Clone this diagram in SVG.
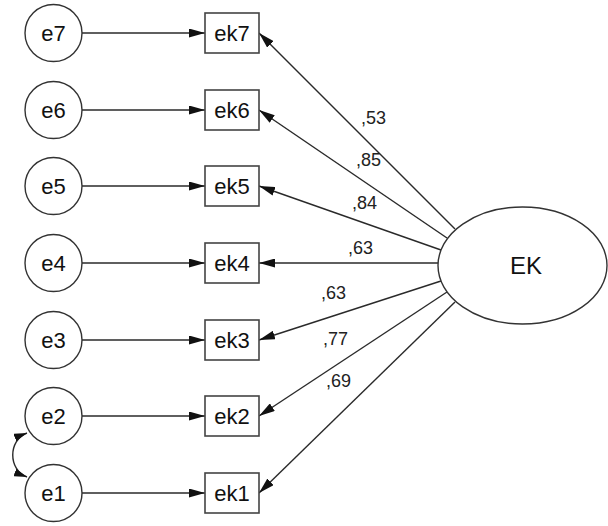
<svg xmlns="http://www.w3.org/2000/svg" width="608" height="526" viewBox="0 0 608 526">
  <style>
    .err { fill: #fff; stroke: #333; stroke-width: 1.4; }
    .obs { fill: #fff; stroke: #444; stroke-width: 1.6; }
    .lat { fill: #fff; stroke: #333; stroke-width: 1.4; }
    .lbl { font-family: "Liberation Sans", Arial, sans-serif; font-size: 22px; fill: #111; text-anchor: middle; }
    .big { font-family: "Liberation Sans", Arial, sans-serif; font-size: 24px; fill: #111; text-anchor: middle; }
    .coef { font-family: "Liberation Sans", Arial, sans-serif; font-size: 18px; fill: #222; }
    .path { fill: none; stroke: #2a2a2a; stroke-width: 1.4; marker-end: url(#head); }
    .cov { fill: none; stroke: #2a2a2a; stroke-width: 1.4; marker-start: url(#small); marker-end: url(#small); }
  </style>
  <defs>
    <marker id="head" markerUnits="userSpaceOnUse" markerWidth="16" markerHeight="9" refX="16" refY="4.5" orient="auto">
      <path d="M0,0 L16,4.5 L0,9 z" fill="#111"/>
    </marker>
    <marker id="small" markerUnits="userSpaceOnUse" markerWidth="13" markerHeight="8" refX="13" refY="4" orient="auto-start-reverse">
      <path d="M0,0 L13,4 L0,8 z" fill="#111"/>
    </marker>
  </defs>

  <!-- connectors -->
  <g id="connectors">
    <!-- error terms to indicators -->
    <line class="path" x1="82" y1="33" x2="205" y2="33"/>
    <line class="path" x1="82" y1="110" x2="205" y2="110"/>
    <line class="path" x1="82" y1="186" x2="205" y2="186"/>
    <line class="path" x1="82" y1="263" x2="205" y2="263"/>
    <line class="path" x1="82" y1="340" x2="205" y2="340"/>
    <line class="path" x1="82" y1="416" x2="205" y2="416"/>
    <line class="path" x1="82" y1="493" x2="205" y2="493"/>
    <!-- factor loadings -->
    <line class="path" x1="455" y1="229" x2="259" y2="33"/>
    <line class="path" x1="447" y1="238" x2="259" y2="110"/>
    <line class="path" x1="441" y1="250" x2="259" y2="186"/>
    <line class="path" x1="438" y1="263" x2="259" y2="263"/>
    <line class="path" x1="441" y1="281" x2="259" y2="340"/>
    <line class="path" x1="447" y1="292" x2="259" y2="416"/>
    <line class="path" x1="455" y1="302" x2="259" y2="493"/>
    <!-- e1 / e2 covariance -->
    <path class="cov" d="M 27 433 C 8 440 8 470 27 477"/>
    <!-- loading values -->
    <text class="coef" x="361" y="124">,53</text>
    <text class="coef" x="356" y="166">,85</text>
    <text class="coef" x="352" y="209">,84</text>
    <text class="coef" x="348" y="254">,63</text>
    <text class="coef" x="321" y="299">,63</text>
    <text class="coef" x="323" y="345">,77</text>
    <text class="coef" x="326" y="387">,69</text>
  </g>

  <!-- error terms -->
  <g id="e7"><circle class="err" cx="53.5" cy="33" r="28.5"/><text class="lbl" x="53.5" y="41">e7</text></g>
  <g id="e6"><circle class="err" cx="53.5" cy="110" r="28.5"/><text class="lbl" x="53.5" y="118">e6</text></g>
  <g id="e5"><circle class="err" cx="53.5" cy="186" r="28.5"/><text class="lbl" x="53.5" y="194">e5</text></g>
  <g id="e4"><circle class="err" cx="53.5" cy="263" r="28.5"/><text class="lbl" x="53.5" y="271">e4</text></g>
  <g id="e3"><circle class="err" cx="53.5" cy="340" r="28.5"/><text class="lbl" x="53.5" y="348">e3</text></g>
  <g id="e2"><circle class="err" cx="53.5" cy="416" r="28.5"/><text class="lbl" x="53.5" y="424">e2</text></g>
  <g id="e1"><circle class="err" cx="53.5" cy="493" r="28.5"/><text class="lbl" x="53.5" y="501">e1</text></g>

  <!-- observed indicators -->
  <g id="ek7"><rect class="obs" x="205" y="13" width="54" height="40"/><text class="lbl" x="232" y="41">ek7</text></g>
  <g id="ek6"><rect class="obs" x="205" y="90" width="54" height="40"/><text class="lbl" x="232" y="118">ek6</text></g>
  <g id="ek5"><rect class="obs" x="205" y="166" width="54" height="40"/><text class="lbl" x="232" y="194">ek5</text></g>
  <g id="ek4"><rect class="obs" x="205" y="243" width="54" height="40"/><text class="lbl" x="232" y="271">ek4</text></g>
  <g id="ek3"><rect class="obs" x="205" y="320" width="54" height="40"/><text class="lbl" x="232" y="348">ek3</text></g>
  <g id="ek2"><rect class="obs" x="205" y="396" width="54" height="40"/><text class="lbl" x="232" y="424">ek2</text></g>
  <g id="ek1"><rect class="obs" x="205" y="473" width="54" height="40"/><text class="lbl" x="232" y="501">ek1</text></g>

  <!-- latent factor -->
  <g id="EK"><ellipse class="lat" cx="522.5" cy="265.5" rx="84.5" ry="58.5"/><text class="big" x="526" y="274">EK</text></g>
</svg>
